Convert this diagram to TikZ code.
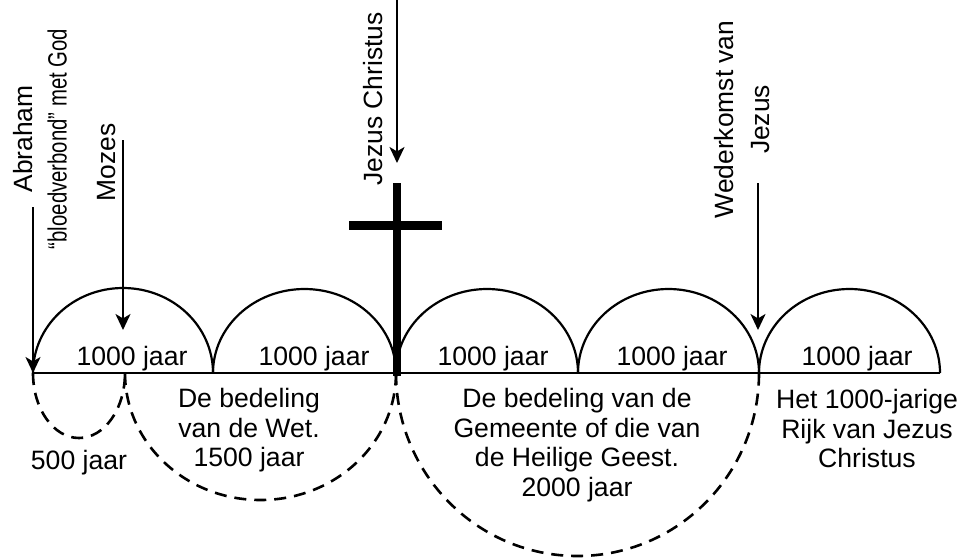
\documentclass[tikz,border=0pt]{standalone}
\usepackage{fontspec}
\setmainfont{Liberation Sans}
\usetikzlibrary{arrows.meta}
\begin{document}
\begin{tikzpicture}[x=0.5pt,y=-0.5pt,
  base line/.style={line width=1.2pt},
  topArc/.style={line width=1.1pt},
  dashedArc/.style={line width=1.3pt, dash pattern=on 6pt off 4pt},
  pointer/.style={line width=1.1pt, -{Stealth[length=8pt,width=7.5pt,inset=2.2pt]}},
  crossbar/.style={line width=4.5pt},
  lbl/.style={inner sep=0pt, align=center, font=\fontsize{13.3}{14.75}\selectfont},
  vlbl/.style={inner sep=0pt, rotate=90, align=center, font=\fontsize{13.2}{17.2}\selectfont},
]
\useasboundingbox (0,0) rectangle (963,559);

% baseline points
\coordinate (p0) at (33,373);
\coordinate (p1) at (213,373);
\coordinate (p2) at (396,373);
\coordinate (p3) at (578,373);
\coordinate (p4) at (759,373);
\coordinate (p5) at (940,373);
\coordinate (pm) at (125,373);

% baseline
\draw[base line] (p0) -- (p5);

% upper arcs
\draw[topArc] (p0) arc[start angle=180, end angle=0, x radius=45pt, y radius=42.5pt];
\draw[topArc] (p1) arc[start angle=180, end angle=0, x radius=45.75pt, y radius=42pt];
\draw[topArc] (p2) arc[start angle=180, end angle=0, x radius=45.5pt, y radius=42pt];
\draw[topArc] (p3) arc[start angle=180, end angle=0, x radius=45.25pt, y radius=42pt];
\draw[topArc] (p4) arc[start angle=180, end angle=0, x radius=45.25pt, y radius=42pt];

% lower dashed arcs
\draw[dashedArc] (p0) arc[start angle=180, end angle=360, x radius=23pt, y radius=32.5pt];
\draw[dashedArc] (pm) arc[start angle=180, end angle=360, x radius=67.75pt, y radius=63.5pt];
\draw[dashedArc] (p2) arc[start angle=180, end angle=360, x radius=90.75pt, y radius=91.5pt];

% cross
\coordinate (crossTop) at (397,183);
\coordinate (crossL) at (349,225);
\coordinate (crossR) at (442,225);
\coordinate (crossFoot) at (397,376);
\draw[line width=4pt] (crossTop) -- (crossFoot);
\draw[crossbar] (crossL) -- (crossR);

% arrows
\coordinate (aAbr) at (33,207);
\coordinate (aMoz) at (123,140);
\coordinate (aMozEnd) at (123,330);
\coordinate (aJez) at (397,0);
\coordinate (aJezEnd) at (397,163);
\coordinate (aWed) at (758,183);
\coordinate (aWedEnd) at (758,330);
\draw[pointer] (aAbr) -- (p0);
\draw[pointer] (aMoz) -- (aMozEnd);
\draw[pointer] (aJez) -- (aJezEnd);
\draw[pointer] (aWed) -- (aWedEnd);

% rotated labels
\node[vlbl] (abraham) at (40,139) {Abraham\\\scalebox{0.77}[1]{“bloedverbond” met God}};
\node[vlbl] (mozes) at (107,162.5) {Mozes};
\node[vlbl] (jezus) at (373,99) {Jezus Christus};
\node[vlbl, font=\fontsize{13.2}{17.6}\selectfont] (weder) at (742,119.5) {Wederkomst van\\Jezus};

% 1000 jaar labels
\node[lbl, anchor=base] (j1) at (132,365) {1000 jaar};
\node[lbl, anchor=base] (j2) at (314,365) {1000 jaar};
\node[lbl, anchor=base] (j3) at (493,365) {1000 jaar};
\node[lbl, anchor=base] (j4) at (672,365) {1000 jaar};
\node[lbl, anchor=base] (j5) at (857,365) {1000 jaar};

% lower labels
\node[lbl, anchor=base] (j500) at (79,469) {500 jaar};
\node[lbl, anchor=north] (wet) at (249,388) {De bedeling\\van de Wet.\\1500 jaar};
\node[lbl, anchor=north] (gem) at (577,388) {De bedeling van de\\Gemeente of die van\\de Heilige Geest.\\2000 jaar};
\node[lbl, anchor=north] (rijk) at (867,389) {Het 1000-jarige\\Rijk van Jezus\\Christus};
\end{tikzpicture}
\end{document}
